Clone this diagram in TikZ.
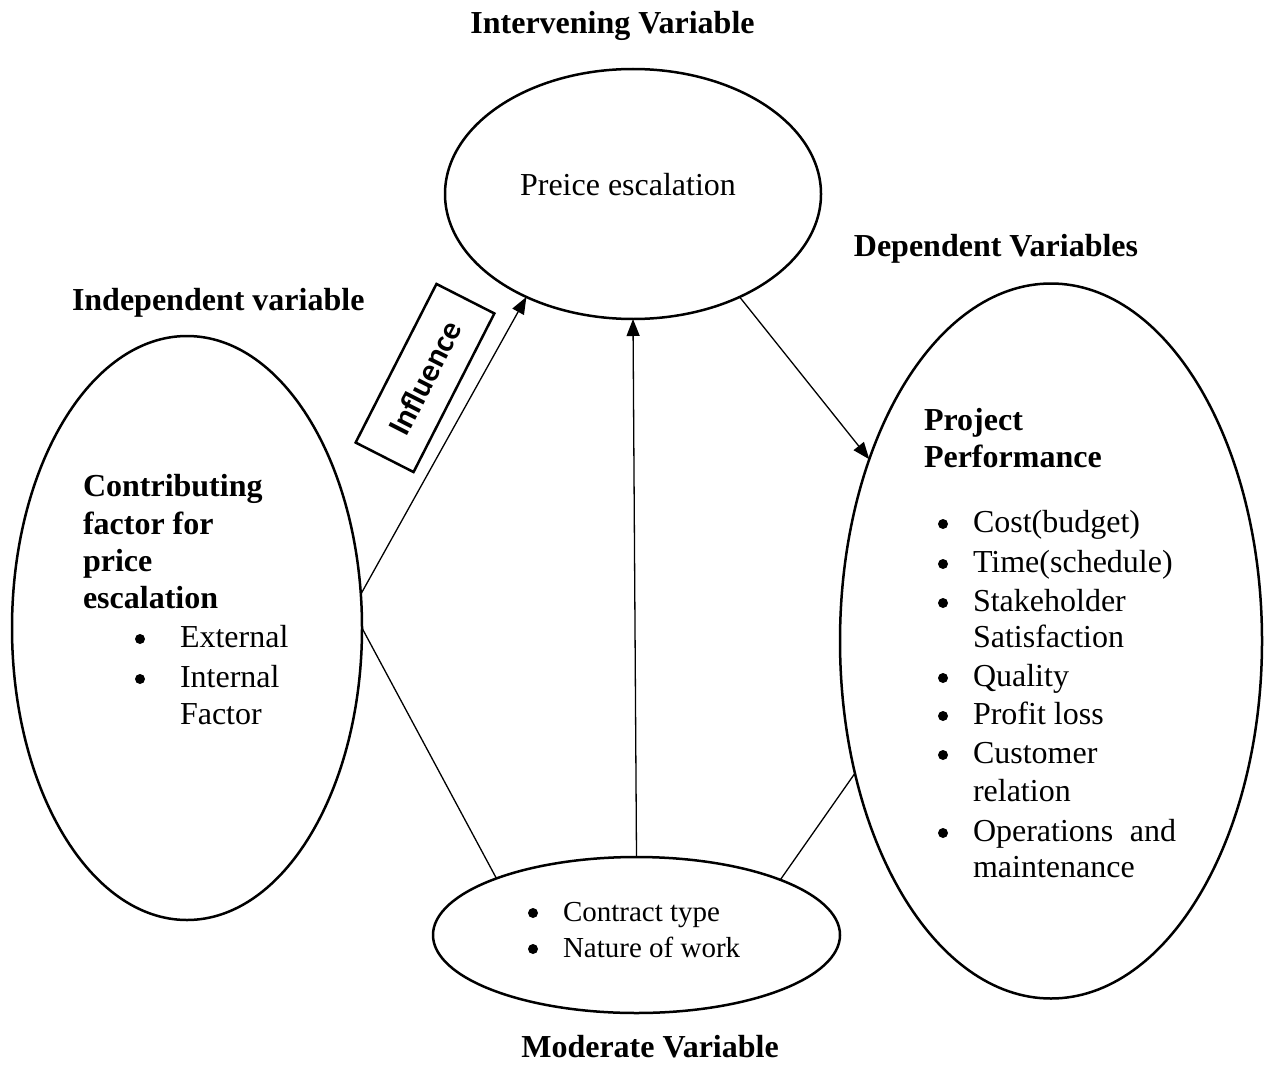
\documentclass[tikz,border=0pt]{standalone}
\usepackage{fontspec}
\setmainfont{Liberation Serif}
\newfontfamily\calibfont{Carlito}
\usetikzlibrary{shapes.geometric,arrows.meta}
\newcommand\bitem[6]{\node[dot] (#2b) at (#3,#5-8) {}; \node[#1, anchor=base west] (#2) at (#4,#5) {#6};}
\begin{document}
\begin{tikzpicture}[x=1pt,y=-1pt,
  oval/.style={draw, ellipse, line width=2.5pt, inner sep=0pt, outer sep=0pt},
  txt/.style={inner sep=0pt, outer sep=0pt, font=\fontsize{32}{38}\selectfont},
  stxt/.style={inner sep=0pt, outer sep=0pt, font=\fontsize{29}{35}\selectfont},
  hdr/.style={inner sep=0pt, outer sep=0pt, font=\fontsize{32}{38}\selectfont\bfseries},
  dot/.style={circle, fill, inner sep=0pt, minimum size=10pt},
  conn/.style={line width=1.3pt},
  arr/.style={conn, -{Triangle[length=17pt,width=13pt]}},
]
\useasboundingbox (0,0) rectangle (1265,1086);
\fill[white] (0,0) rectangle (1265,1086);

% ellipses
\node[oval, minimum width=376pt, minimum height=250pt] (T) at (633,194) {};
\node[oval, minimum width=350pt, minimum height=584pt] (L) at (187,628) {};
\node[oval, minimum width=422pt, minimum height=715pt] (R) at (1051,641) {};
\node[oval, minimum width=407pt, minimum height=156pt] (B) at (636.5,935) {};

% connectors
\draw[arr] (L.11) -- (T.224);
\draw[conn] (L.0) -- (B.158.5);
\draw[arr] (B.north) -- (T.south);
\draw[arr] (T.-44.7) -- (R.135.6);
\draw[conn] (B.21.2) -- (R.214.3);

% influence box
\node[draw, line width=2.5pt, minimum width=178pt, minimum height=65pt, rotate=63, inner sep=0pt,
      font=\calibfont\bfseries\fontsize{32}{38}\selectfont] (I) at (425,378) {Influence};

% headers
\node[hdr, anchor=base] (h1) at (612.5,34) {Intervening Variable};
\node[hdr, anchor=base] (h2) at (996,256) {Dependent Variables};
\node[hdr, anchor=base west] (h3) at (72,310) {Independent variable};
\node[hdr, anchor=base] (h4) at (650,1057) {Moderate Variable};

% top ellipse text
\node[txt, anchor=base] (pe) at (628,195) {Preice escalation};

% left ellipse text
\node[hdr, anchor=base west] (c1) at (83,496) {Contributing};
\node[hdr, anchor=base west] (c2) at (83,534) {factor for};
\node[hdr, anchor=base west] (c3) at (83,571) {price};
\node[hdr, anchor=base west] (c4) at (83,608) {escalation};
\bitem{txt}{le1}{140}{180}{647}{External}
\bitem{txt}{le2}{140}{180}{687}{Internal}
\node[txt, anchor=base west] (le3) at (180,724) {Factor};

% right ellipse text
\node[hdr, anchor=base west] (p1) at (924,430) {Project};
\node[hdr, anchor=base west] (p2) at (924,467) {Performance};
\bitem{txt}{r1}{943}{973}{532}{Cost(budget)}
\bitem{txt}{r2}{943}{973}{572}{Time(schedule)}
\bitem{txt}{r3}{943}{973}{611}{Stakeholder}
\node[txt, anchor=base west] (r3b2) at (973,647) {Satisfaction};
\bitem{txt}{r4}{943}{973}{686}{Quality}
\bitem{txt}{r5}{943}{973}{724}{Profit loss}
\bitem{txt}{r6}{943}{973}{763}{Customer}
\node[txt, anchor=base west] (r6b2) at (973,801) {relation};
\bitem{txt}{r7}{943}{973}{841}{Operations}
\node[txt, anchor=base east] (r7and) at (1176,841) {and};
\node[txt, anchor=base west] (r7b2) at (973,877) {maintenance};

% bottom ellipse text
\bitem{stxt}{m1}{533}{563}{921}{Contract type}
\bitem{stxt}{m2}{533}{563}{957}{Nature of work}
\end{tikzpicture}
\end{document}
